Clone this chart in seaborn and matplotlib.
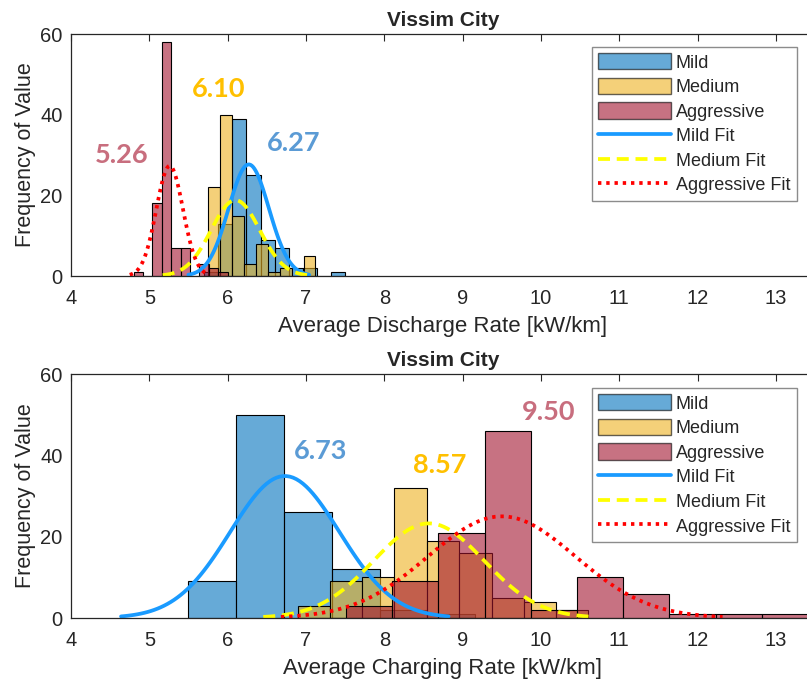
import numpy as np
import pandas as pd
import matplotlib
matplotlib.use("Agg")
import matplotlib.pyplot as plt
import seaborn as sns
from matplotlib.patches import Patch
from matplotlib.lines import Line2D

styles = ["Mild", "Medium", "Aggressive"]

# Average discharge rate: histogram bin edges and counts per driving style
dis_mild_edges = [5.70, 5.88, 6.06, 6.24, 6.42, 6.60, 6.78, 6.96, 7.14, 7.32, 7.50]
dis_mild_counts = [1, 13, 39, 25, 9, 7, 2, 2, 0, 1]
dis_medium_edges = [5.75, 5.90, 6.05, 6.21, 6.36, 6.51, 6.67, 6.82, 6.97, 7.12]
dis_medium_counts = [22, 40, 15, 3, 8, 1, 2, 0, 5]
dis_aggr_edges = [4.80, 4.92, 5.04, 5.16, 5.28, 5.40, 5.52, 5.64, 5.76, 5.88, 6.00]
dis_aggr_counts = [1, 0, 18, 58, 7, 7, 0, 3, 2, 1]
dis_means = [6.27, 6.10, 5.26]
dis_stds = [0.257, 0.31, 0.17]

# Average charging rate: histogram bin edges and counts per driving style
chg_mild_edges = [5.50, 6.11, 6.72, 7.33, 7.94, 8.55, 9.16]
chg_mild_counts = [9, 50, 26, 12, 2, 1]
chg_medium_edges = [6.90, 7.31, 7.72, 8.13, 8.54, 8.96, 9.37, 9.78, 10.19, 10.60]
chg_medium_counts = [3, 9, 10, 32, 19, 16, 5, 4, 2]
chg_aggr_edges = [6.93, 7.51, 8.10, 8.69, 9.28, 9.87, 10.46, 11.05, 11.64, 12.23, 12.82, 13.41]
chg_aggr_counts = [0, 3, 9, 21, 46, 2, 10, 6, 1, 1, 1]
chg_means = [6.73, 8.57, 9.50]
chg_stds = [0.697, 0.705, 0.94]

# Positions of the mean annotations (data coordinates)
dis_label_pos = [(6.84, 33.0), (5.89, 46.4), (4.65, 30.0)]
chg_label_pos = [(7.19, 41.0), (8.71, 37.6), (10.10, 50.7)]

bar_colors = ["#0072BD", "#EDB120", "#A2142F"]
fit_colors = ["#1A9BFF", "#FFFF00", "#FF0000"]
fit_styles = ["-", (0, (3.2, 1.8)), (0, (0.9, 1.3))]
label_colors = ["#5B9BD5", "#FFC000", "#C86E7E"]

sns.set_style("white")
plt.rcParams["font.family"] = ["Liberation Sans", "DejaVu Sans"]

W, H = 807, 683
fig = plt.figure(figsize=(W / 100, H / 100), dpi=100)


def fig_rect(left, top, right, bottom):
    return [left / W, 1 - bottom / H, (right - left) / W, (bottom - top) / H]


ax_top = fig.add_axes(fig_rect(71, 34, 815, 276))
ax_bot = fig.add_axes(fig_rect(71, 374, 815, 618))


def draw_panel(ax, hists, means, stds, label_pos, xlabel, legend_top):
    for (edges, counts), color in zip(hists, bar_colors):
        mids = [(a + b) / 2 for a, b in zip(edges[:-1], edges[1:])]
        df = pd.DataFrame({"value": mids, "count": [float(c) for c in counts]})
        sns.histplot(data=df, x="value", weights="count", bins=list(edges),
                     color=color, alpha=0.6, edgecolor="black", linewidth=0.8, ax=ax)
    for (edges, counts), m, s, c, ls in zip(hists, means, stds, fit_colors, fit_styles):
        n = np.sum(counts)
        bw = np.mean(np.diff(edges))
        xs = np.linspace(m - 3 * s, m + 3 * s, 100)
        ys = n * bw * np.exp(-0.5 * ((xs - m) / s) ** 2) / (s * np.sqrt(2 * np.pi))
        ax.plot(xs, ys, color=c, lw=2.7, linestyle=ls)
    for m, (px, py), c in zip(means, label_pos, label_colors):
        ax.text(px, py, f"{m:.2f}", color=c, fontsize=19.5, fontweight="bold",
                family=["Lato", "DejaVu Sans"], ha="center", va="center")

    ax.set_xlim(4, 13.5)
    ax.set_ylim(0, 60)
    ax.set_xticks(range(4, 14))
    ax.set_yticks([0, 20, 40, 60])
    ax.tick_params(direction="in", length=5, width=0.8, top=True, right=False,
                   labelsize=14.5, colors="#262626", pad=6)
    ax.tick_params(axis="x", pad=9)
    for sp in ax.spines.values():
        sp.set_color("#262626")
        sp.set_linewidth(0.9)
    ax.set_xlabel(xlabel, fontsize=16, color="#262626", labelpad=6)
    ax.set_ylabel("Frequency of Value", fontsize=15.5, color="#262626", labelpad=3)
    ax.set_title("Vissim City", fontsize=15, fontweight="bold", pad=6)

    handles = [Patch(facecolor=c, alpha=0.6, edgecolor="black", linewidth=1)
               for c in bar_colors]
    handles += [Line2D([0], [0], color=c, lw=2.7, linestyle=ls)
                for c, ls in zip(fit_colors, fit_styles)]
    labels = styles + [f"{s} Fit" for s in styles]
    leg = ax.legend(handles, labels, loc="upper left",
                    bbox_to_anchor=(592 / W, 1 - legend_top / H),
                    bbox_transform=fig.transFigure, borderaxespad=0,
                    fontsize=13, frameon=True, fancybox=False, framealpha=1,
                    handlelength=4.0, handleheight=1.0, labelspacing=0.35,
                    handletextpad=0.3, borderpad=0.35)
    leg.get_frame().set_edgecolor("#8C8C8C")
    leg.get_frame().set_linewidth(1.0)


draw_panel(ax_top,
           [(dis_mild_edges, dis_mild_counts), (dis_medium_edges, dis_medium_counts),
            (dis_aggr_edges, dis_aggr_counts)],
           dis_means, dis_stds, dis_label_pos, "Average Discharge Rate [kW/km]", 47)
draw_panel(ax_bot,
           [(chg_mild_edges, chg_mild_counts), (chg_medium_edges, chg_medium_counts),
            (chg_aggr_edges, chg_aggr_counts)],
           chg_means, chg_stds, chg_label_pos, "Average Charging Rate [kW/km]", 388)

fig.savefig("out.png", dpi=100)
